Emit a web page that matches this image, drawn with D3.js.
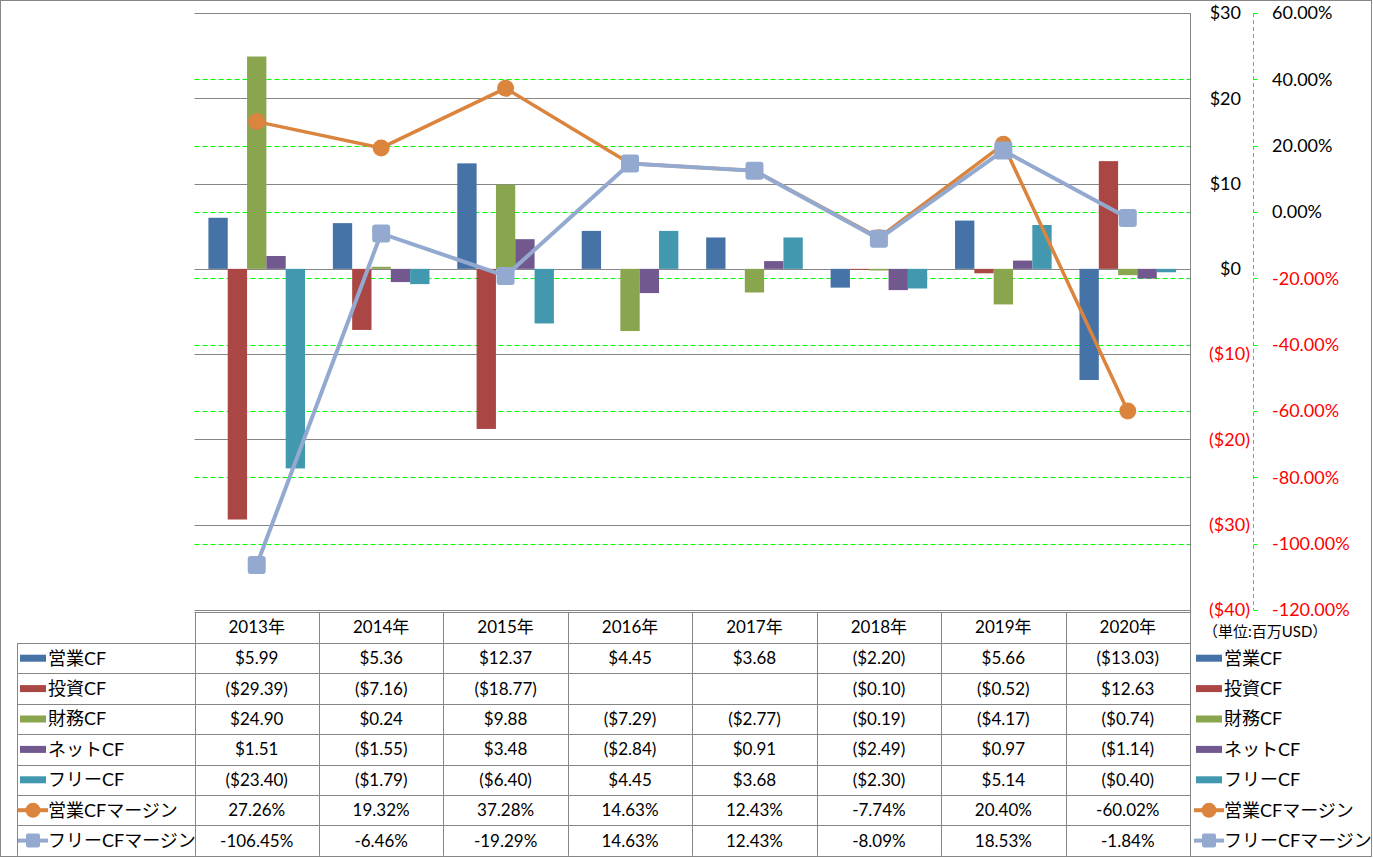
<!DOCTYPE html>
<html><head><meta charset="utf-8">
<script src="https://cdn.jsdelivr.net/npm/d3@7"></script>
<style>
body{margin:0;background:#fff;}
text{font-family:Lato,"Noto Sans CJK JP",sans-serif;}
</style>
</head><body>
<svg id="c" width="1373" height="858"></svg>
<script>
const years = ["2013年","2014年","2015年","2016年","2017年","2018年","2019年","2020年"];
const barSeries = ["営業CF","投資CF","財務CF","ネットCF","フリーCF"];
const opCF   = [5.99, 5.36, 12.37, 4.45, 3.68, -2.20, 5.66, -13.03];
const invCF  = [-29.39, -7.16, -18.77, null, null, -0.10, -0.52, 12.63];
const finCF  = [24.90, 0.24, 9.88, -7.29, -2.77, -0.19, -4.17, -0.74];
const netCF  = [1.51, -1.55, 3.48, -2.84, 0.91, -2.49, 0.97, -1.14];
const freeCF = [-23.40, -1.79, -6.40, 4.45, 3.68, -2.30, 5.14, -0.40];
const lineSeries = ["営業CFマージン","フリーCFマージン"];
const opMargin   = [27.26, 19.32, 37.28, 14.63, 12.43, -7.74, 20.40, -60.02];
const freeMargin = [-106.45, -6.46, -19.29, 14.63, 12.43, -8.09, 18.53, -1.84];
const leftTicks  = [30, 20, 10, 0, -10, -20, -30, -40];
const rightTicks = [60, 40, 20, 0, -20, -40, -60, -80, -100, -120];
const unitLabel = "（単位:百万USD）";

const barValues = [opCF, invCF, finCF, netCF, freeCF];
const lineValues = [opMargin, freeMargin];
const barColors = ["#4572A7","#AA4643","#89A54E","#71588F","#4198AF"];
const lineColors = ["#DB843D","#93A9CF"];

const svg = d3.select("#c");
const L = 194.5, R = 1190, T = 13, B = 610;
const gridGrey = "#868686";

const x = d3.scaleBand().domain(years).range([L, R]).padding(0);
const xi = d3.scaleBand().domain(barSeries).range([0, x.bandwidth()]).paddingInner(0).paddingOuter(0.72);
const yL = d3.scaleLinear().domain([-40, 30]).range([B, T]);
const yR = d3.scaleLinear().domain([-120, 60]).range([B, T]);

// outer border
svg.append("rect").attr("x",0.5).attr("y",0.5).attr("width",1371).attr("height",856)
  .attr("fill","none").attr("stroke",gridGrey);

// grey gridlines
svg.append("g").selectAll("line").data(leftTicks).join("line")
  .attr("x1",L).attr("x2",R)
  .attr("y1",d=>Math.round(yL(d))+0.5).attr("y2",d=>Math.round(yL(d))+0.5)
  .attr("stroke",gridGrey).attr("stroke-width",1);

// green dashed gridlines
svg.append("g").selectAll("line").data(rightTicks.filter(d=>d!==60 && d!==-120)).join("line")
  .attr("x1",L).attr("x2",R)
  .attr("y1",d=>Math.round(yR(d))+0.5).attr("y2",d=>Math.round(yR(d))+0.5)
  .attr("stroke","#00ff00").attr("stroke-width",1).attr("stroke-dasharray","5,3");

// right border of plot / table
svg.append("line").attr("x1",R+0.5).attr("x2",R+0.5).attr("y1",T).attr("y2",856)
  .attr("stroke",gridGrey);

// bars
const bg = svg.append("g");
barValues.forEach((vals, si) => {
  bg.append("g").selectAll("rect").data(vals.map((v,i)=>({v, year: years[i]})).filter(d=>d.v!==null)).join("rect")
    .attr("x", d => x(d.year) + xi(barSeries[si]))
    .attr("width", xi.bandwidth())
    .attr("y", d => Math.min(yL(d.v), yL(0)))
    .attr("height", d => Math.abs(yL(d.v) - yL(0)))
    .attr("fill", barColors[si]);
});

// lines
const cx = i => x(years[i]) + x.bandwidth()/2;
lineValues.forEach((vals, si) => {
  const g = svg.append("g");
  g.append("path").datum(vals)
    .attr("d", d3.line().x((d,i)=>cx(i)).y(d=>yR(d)))
    .attr("fill","none").attr("stroke",lineColors[si]).attr("stroke-width", si===0?3.5:4);
  if (si === 0) {
    g.selectAll("circle").data(vals).join("circle")
      .attr("cx",(d,i)=>cx(i)).attr("cy",d=>yR(d)).attr("r",8.5).attr("fill",lineColors[si]);
  } else {
    g.selectAll("rect").data(vals).join("rect")
      .attr("x",(d,i)=>cx(i)-9).attr("y",d=>yR(d)-9).attr("width",18).attr("height",18)
      .attr("rx",3).attr("fill",lineColors[si]);
  }
});

// secondary axis line (green dashed)
const ax2 = 1253.5;
svg.append("line").attr("x1",ax2).attr("x2",ax2).attr("y1",T).attr("y2",B)
  .attr("stroke","#00ff00").attr("stroke-dasharray","4,3");
svg.append("g").selectAll("line").data(rightTicks).join("line")
  .attr("x1",ax2).attr("x2",ax2+4)
  .attr("y1",d=>Math.round(yR(d))+0.5).attr("y2",d=>Math.round(yR(d))+0.5)
  .attr("stroke","#00ff00");

// left value labels (right side)
svg.append("g").selectAll("text").data(leftTicks).join("text")
  .attr("x", d => d < 0 ? 1250 : 1241)
  .attr("y", d => yL(d)).attr("dy","0.35em")
  .attr("text-anchor","end").attr("font-size",18)
  .attr("fill", d => d < 0 ? "#ff0000" : "#000")
  .text(d => d < 0 ? `($${Math.abs(d)})` : `$${d}`);

svg.append("g").selectAll("text").data(rightTicks).join("text")
  .attr("x", 1272)
  .attr("y", d => yR(d)).attr("dy","0.35em")
  .attr("text-anchor","start").attr("font-size",18)
  .attr("fill", d => d < 0 ? "#ff0000" : "#000")
  .text(d => d.toFixed(2) + "%");

// table
const headTop = 612, rowTop = 643, rowH = 30.4;
const nRows = barSeries.length + lineSeries.length;
const tableBottom = rowTop + nRows*rowH;
const tg = svg.append("g");
tg.append("line").attr("x1",L).attr("x2",R).attr("y1",headTop+0.5).attr("y2",headTop+0.5).attr("stroke",gridGrey);
d3.range(nRows+1).forEach(r => {
  const yy = Math.round(rowTop + r*rowH)+0.5;
  tg.append("line").attr("x1",17).attr("x2",R).attr("y1",yy).attr("y2",yy).attr("stroke",gridGrey);
});
tg.append("line").attr("x1",17.5).attr("x2",17.5).attr("y1",rowTop).attr("y2",tableBottom).attr("stroke",gridGrey);
years.forEach(yr => {
  const xx = Math.round(x(yr))+0.5;
  tg.append("line").attr("x1",xx).attr("x2",xx).attr("y1",headTop).attr("y2",tableBottom).attr("stroke",gridGrey);
});
tg.selectAll("text.h").data(years).join("text").attr("class","h")
  .attr("x", d => x(d)+x.bandwidth()/2).attr("y", (headTop+rowTop)/2).attr("dy","0.35em")
  .attr("text-anchor","middle").attr("font-size",17).text(d=>d);

const fmtD = v => v === null ? "" : (v < 0 ? `($${Math.abs(v).toFixed(2)})` : `$${v.toFixed(2)}`);
const fmtP = v => v.toFixed(2) + "%";
const allNames = barSeries.concat(lineSeries);
const allVals = barValues.concat(lineValues);
allVals.forEach((vals, r) => {
  const cy = rowTop + r*rowH + rowH/2;
  const f = r < barSeries.length ? fmtD : fmtP;
  tg.append("g").selectAll("text").data(vals).join("text")
    .attr("x",(d,i)=>cx(i)).attr("y",cy).attr("dy","0.35em")
    .attr("text-anchor","middle").attr("font-size",17).text(d=>f(d));
});

function legendKey(g, kx, cy, r) {
  if (r < barSeries.length) {
    g.append("rect").attr("x",kx).attr("y",cy-3.5).attr("width",26).attr("height",7).attr("fill",barColors[r]);
  } else {
    const li = r - barSeries.length;
    g.append("line").attr("x1",kx-2).attr("x2",kx+28).attr("y1",cy).attr("y2",cy)
      .attr("stroke",lineColors[li]).attr("stroke-width",4);
    if (li === 0) g.append("circle").attr("cx",kx+13).attr("cy",cy).attr("r",7.5).attr("fill",lineColors[li]);
    else g.append("rect").attr("x",kx+6).attr("y",cy-7).attr("width",14).attr("height",14).attr("rx",2).attr("fill",lineColors[li]);
  }
}
allNames.forEach((name, r) => {
  const cy = rowTop + r*rowH + rowH/2;
  legendKey(tg, 20, cy, r);
  tg.append("text").attr("x",48).attr("y",cy).attr("dy","0.35em").attr("font-size",18).text(name);
  legendKey(tg, 1196, cy, r);
  tg.append("text").attr("x",1224).attr("y",cy).attr("dy","0.35em").attr("font-size",18).text(name);
});

svg.append("text").attr("x",1203).attr("y",632).attr("dy","0.35em").attr("font-size",15).text(unitLabel);
</script>
</body></html>
